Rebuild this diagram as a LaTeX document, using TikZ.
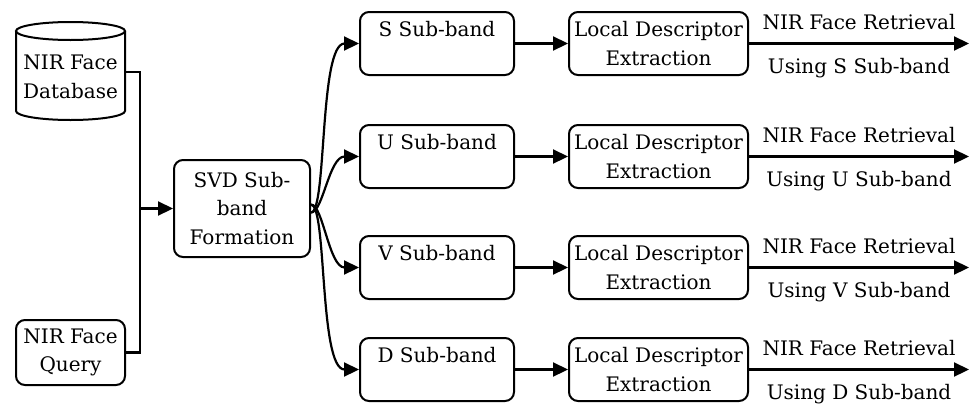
\documentclass[tikz,border=0pt]{standalone}
\usepackage{fontspec}
\setmainfont{DejaVu Serif}
\usetikzlibrary{shapes.geometric,arrows.meta}
\begin{document}
\begin{tikzpicture}[x=1pt,y=-1pt,
  every node/.style={font=\fontsize{20}{28.5}\selectfont},
  ln/.style={line width=2.2pt},
  arr/.style={ln,-{Triangle[length=15pt,width=14pt]}},
  rbox/.style={draw,line width=2pt,rounded corners=9pt,inner sep=0pt,align=center},
  subbox/.style={rbox,minimum width=154pt,minimum height=63pt},
  ldebox/.style={rbox,minimum width=179pt,minimum height=63pt},
  lblup/.style={above,inner sep=13pt},
  lbldn/.style={below,inner sep=14pt}
]
\useasboundingbox (0,0) rectangle (969,405);
% database cylinder
\draw[line width=2pt] (16,31) -- (16,111) arc[start angle=180,end angle=0,x radius=54.5,y radius=9] -- (125,31);
\draw[line width=2pt] (70.5,31) ellipse[x radius=54.5,y radius=9];
\node[minimum width=109pt,minimum height=98pt,inner sep=0pt] (db) at (70.5,72) {};
\node[align=center,inner sep=0pt] (dbt) at (70.5,77) {NIR Face\\Database};
\node[rbox,minimum width=109pt,minimum height=65pt] (q) at (70.5,352.5) {NIR Face\\Query};
\node[rbox,minimum width=136pt,minimum height=97pt] (svd) at (242,208.5) {SVD Sub-\\band\\Formation};
\coordinate (jn) at (140,208.5);
\draw[ln] (db.east) -| (jn);
\draw[ln] (q.east) -| (jn);
\draw[arr] (jn) -- (svd.west);
% sub-bands
\foreach \n/\y in {S/43.5,U/156.5,V/267.5,D/369.5}{
  \node[subbox] (sb\n) at (437,\y) {};
  \node[anchor=north,inner sep=0pt] (sbt\n) at ([yshift=-10pt]sb\n.north) {\n{} Sub-band};
  \node[ldebox] (lde\n) at (658.5,\y) {Local Descriptor\\Extraction};
  \coordinate (end\n) at (969,\y);
  \draw[arr] (sb\n.east) -- (lde\n.west);
  \draw[arr] (lde\n.east) -- node[lblup] (ra\n) {NIR Face Retrieval}
    node[lbldn] (rb\n) {Using \n{} Sub-band} (end\n);
}
% curved connectors
\draw[arr] ([yshift=-4pt]svd.east) .. controls +(16,0) and +(-40,0) .. (sbS.west);
\draw[arr] ([yshift=-4pt]svd.east) .. controls +(12,0) and +(-30,0) .. (sbU.west);
\draw[arr] ([yshift=4pt]svd.east) .. controls +(12,0) and +(-30,0) .. (sbV.west);
\draw[arr] ([yshift=4pt]svd.east) .. controls +(16,0) and +(-40,0) .. (sbD.west);
\end{tikzpicture}
\end{document}
